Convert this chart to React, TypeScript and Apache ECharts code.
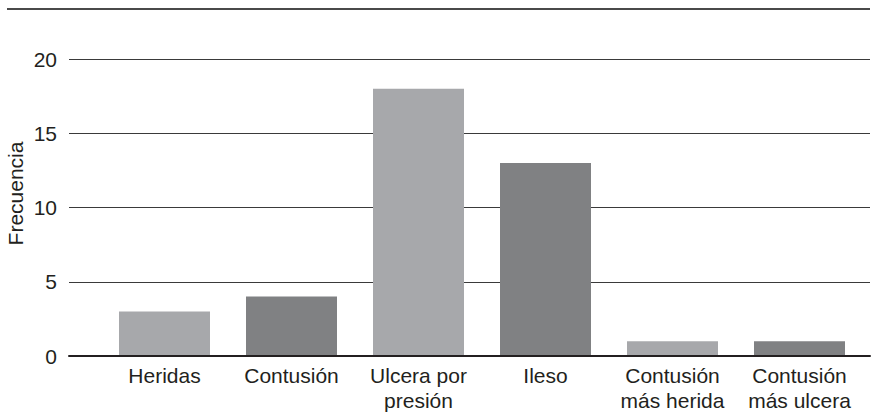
import React, { useEffect, useRef } from "react";
import * as echarts from "echarts";

const categories = [
  "Heridas",
  "Contusión",
  "Ulcera por\npresión",
  "Ileso",
  "Contusión\nmás herida",
  "Contusión\nmás ulcera",
];
const frequencies = [3, 4, 18, 13, 1, 1];
const barColors = ["#a7a8ab", "#808183", "#a7a8ab", "#808183", "#a7a8ab", "#808183"];
const yTicks = { min: 0, max: 20, interval: 5 };
const yAxisName = "Frecuencia";

const FONT = "'Liberation Sans', Arial, sans-serif";
const TEXT = "#231f20";

export default function App() {
  const ref = useRef<HTMLDivElement>(null);
  useEffect(() => {
    if (!ref.current) return;
    const chart = echarts.init(ref.current, null, { renderer: "svg" });
    chart.setOption({
      animation: false,
      backgroundColor: "#ffffff",
      grid: [
        { left: 69, right: 1, top: 59, bottom: 61, outerBoundsMode: "none", containLabel: false },
        { left: 101, right: 8, top: 59, bottom: 61, outerBoundsMode: "none", containLabel: false },
      ],
      xAxis: [
        {
          gridIndex: 0,
          type: "category",
          data: categories,
          axisTick: { show: false },
          axisLabel: { show: false },
          axisLine: { show: true, lineStyle: { color: TEXT, width: 2 } },
          z: 10,
        },
        {
          gridIndex: 1,
          type: "category",
          data: categories,
          axisTick: { show: false },
          axisLine: { show: false },
          axisLabel: {
            color: TEXT,
            fontFamily: FONT,
            fontSize: 21,
            lineHeight: 25,
            margin: 7,
            interval: 0,
          },
        },
      ],
      yAxis: [
        {
          gridIndex: 0,
          type: "value",
          min: yTicks.min,
          max: yTicks.max,
          interval: yTicks.interval,
          name: yAxisName,
          nameLocation: "middle",
          nameGap: 43,
          nameMoveOverlap: false,
          nameTextStyle: { color: TEXT, fontFamily: FONT, fontSize: 21, padding: [0, 0, 0, 28] },
          axisLine: { show: false },
          axisTick: { show: false },
          axisLabel: { color: TEXT, fontFamily: FONT, fontSize: 21, margin: 12 },
          splitLine: { show: true, lineStyle: { color: "#3a3a3a", width: 1 } },
        },
        {
          gridIndex: 1,
          type: "value",
          min: yTicks.min,
          max: yTicks.max,
          interval: yTicks.interval,
          show: false,
          splitLine: { show: false },
        },
      ],
      graphic: [
        {
          type: "line",
          shape: { x1: 7, y1: 9, x2: 870, y2: 9 },
          style: { stroke: "#4a4a4a", lineWidth: 2 },
        },
      ],
      series: [
        {
          type: "bar",
          xAxisIndex: 1,
          yAxisIndex: 1,
          barWidth: 91,
          data: frequencies.map((v, i) => ({ value: v, itemStyle: { color: barColors[i] } })),
        },
      ],
    });
    return () => chart.dispose();
  }, []);
  return <div ref={ref} style={{ width: 871, height: 417, position: "absolute", left: 0, top: 0 }} />;
}
